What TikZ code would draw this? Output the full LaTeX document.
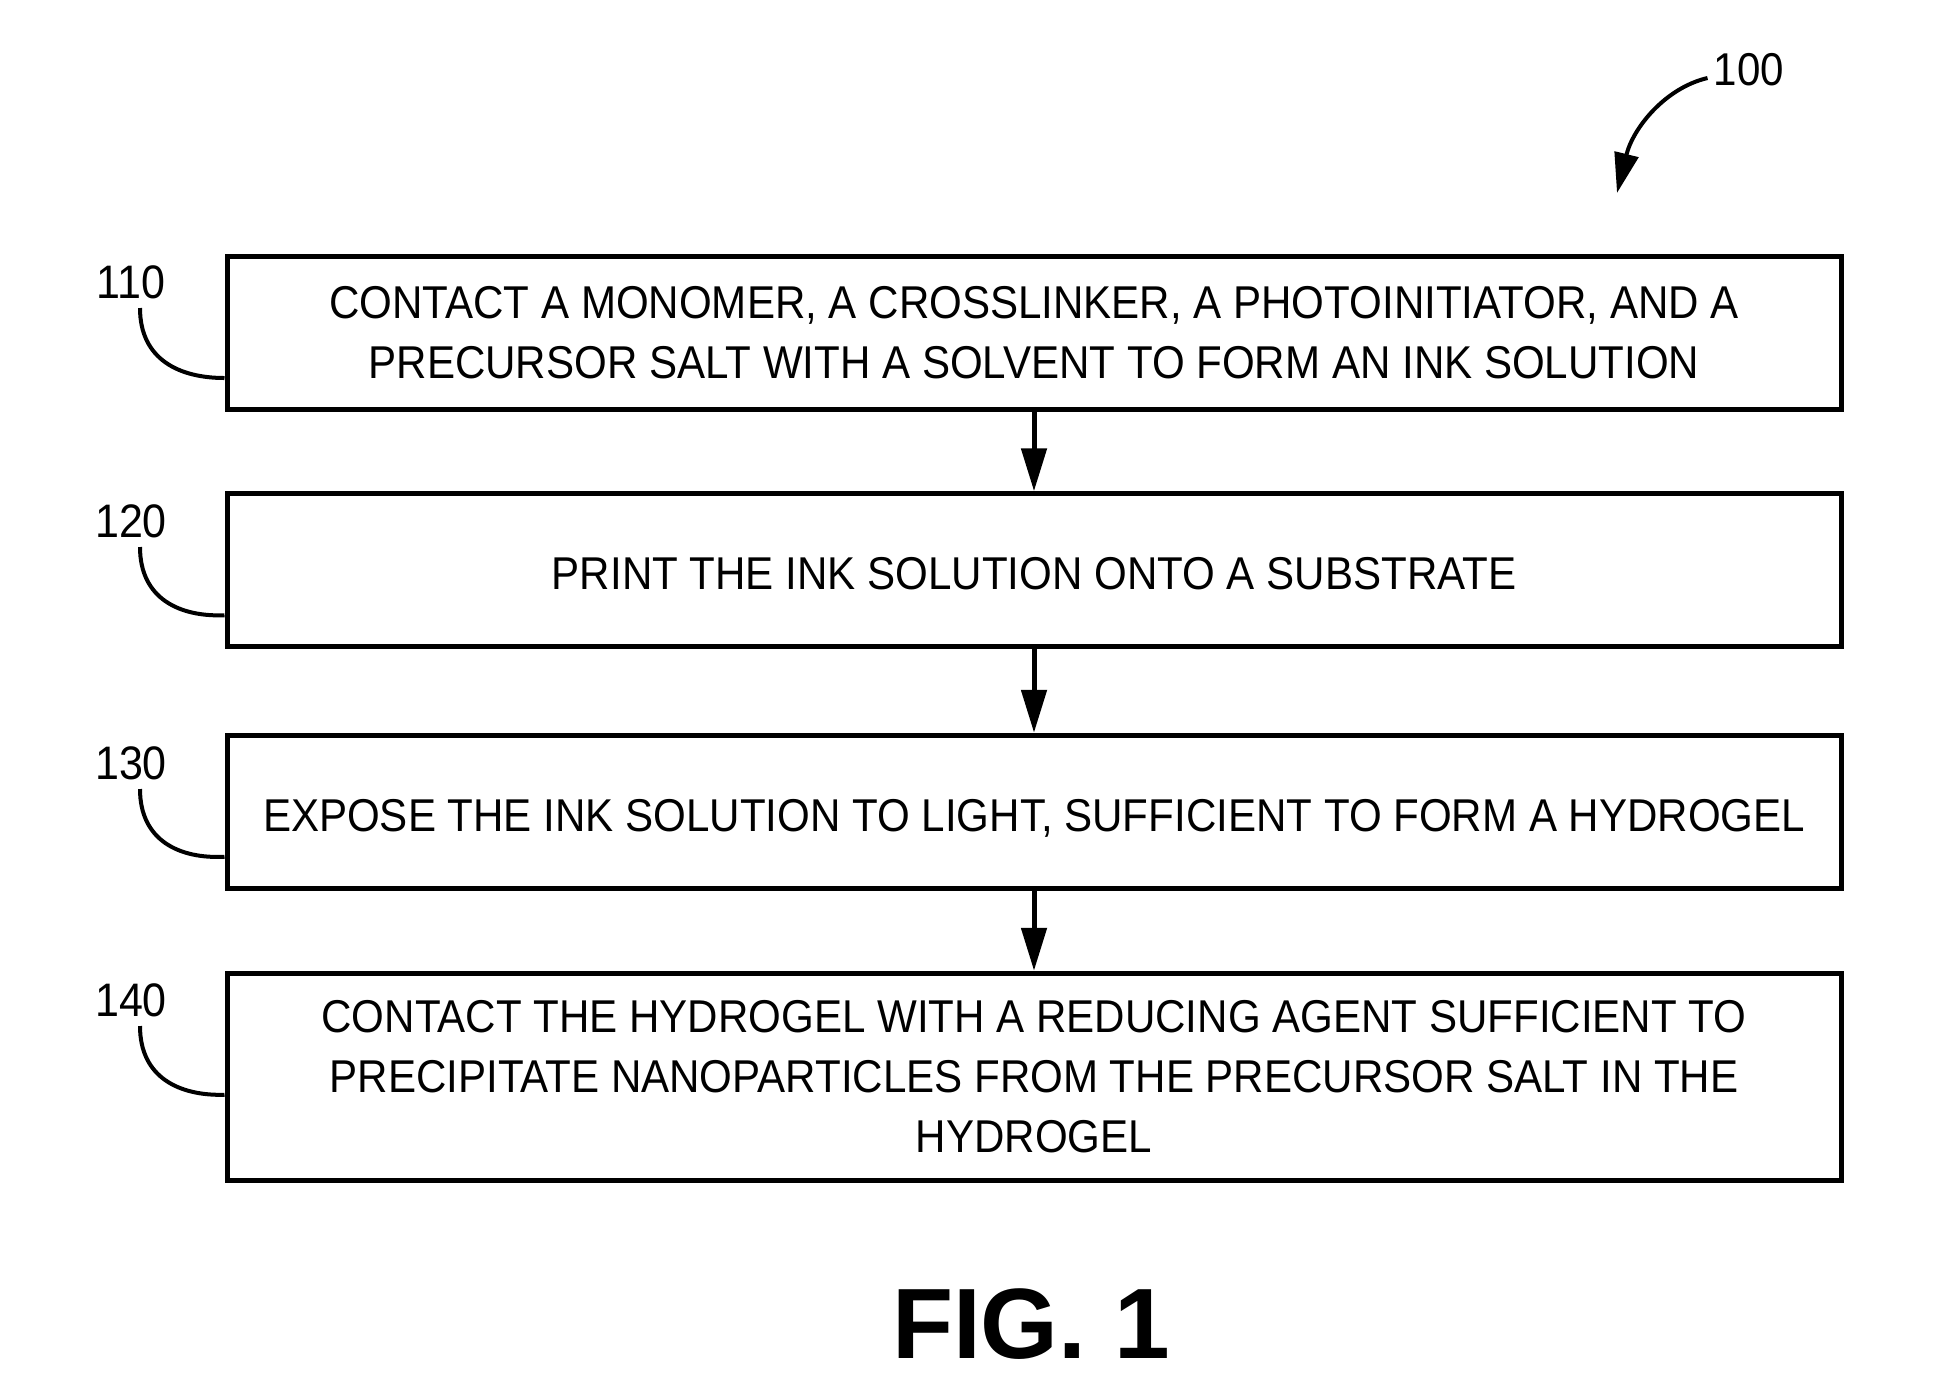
\documentclass[tikz,border=0pt]{standalone}
\usepackage{fontspec}
\setmainfont[FakeStretch=0.915]{Liberation Sans}
\newfontfamily\figfont{Liberation Sans}
\usetikzlibrary{arrows.meta,calc}
\begin{document}
\begin{tikzpicture}[x=0.5pt,y=-0.5pt,
  stepbox/.style={draw, line width=2.5pt, minimum width=807pt, inner sep=0pt, align=center,
    font=\fontsize{23pt}{30pt}\selectfont},
  onelinebox/.style={stepbox, text height=19.5pt, text depth=0pt},
  reflabel/.style={font=\fontsize{23.5pt}{28pt}\selectfont, inner sep=0pt},
  flow/.style={line width=2.5pt, -{Triangle[length=21.5pt,width=12.5pt]}},
  leader/.style={line width=2pt}]
\useasboundingbox (0,0) rectangle (1942,1394);
\fill[white] (0,0) rectangle (1942,1394);
% steps
\node[stepbox, minimum height=76.5pt] (s1) at (1034,333)
  {CONTACT A MONOMER, A CROSSLINKER, A PHOTOINITIATOR, AND A\\PRECURSOR SALT WITH A SOLVENT TO FORM AN INK SOLUTION};
\node[onelinebox, minimum height=76.25pt] (s2) at (1034,570)
  {PRINT THE INK SOLUTION ONTO A SUBSTRATE};
\node[onelinebox, minimum height=76.75pt] (s3) at (1034,812)
  {EXPOSE THE INK SOLUTION TO LIGHT, SUFFICIENT TO FORM A HYDROGEL};
\node[stepbox, minimum height=103.75pt] (s4) at (1034,1077)
  {CONTACT THE HYDROGEL WITH A REDUCING AGENT SUFFICIENT TO\\PRECIPITATE NANOPARTICLES FROM THE PRECURSOR SALT IN THE\\HYDROGEL};
% flow arrows
\draw[flow] (s1) -- (s2);
\draw[flow] (s2) -- (s3);
\draw[flow] (s3) -- (s4);
% reference labels and leaders
\foreach \n/\s/\y in {110/s1/282, 120/s2/521, 130/s3/763, 140/s4/1000}{
  \node[reflabel] (l\n) at (131,\y) {\n};
  \coordinate (l\n s) at ($(l\n.center)+(9,26)$);
  \draw[leader] (l\n s) .. controls ($(l\n s)+(0,52)$) and ($(l\n s)+(40,70)$) .. ([yshift=-62pt]\s.north west);
}
% overall reference
\node[reflabel, font=\fontsize{23pt}{28pt}\selectfont] (l100) at (1749,70) {100};
\coordinate (a100) at ($(l100.west)+(-6,8)$);
\coordinate (t100) at (1617,193);
\draw[leader, -{Triangle[length=20pt,width=12pt]}] (a100) .. controls (1665,88) and (1633,128) .. (t100);
% figure caption
\node[font=\figfont\bfseries\fontsize{50pt}{60pt}\selectfont, inner sep=0pt] (fig) at (1031,1324) {FIG. 1};
\end{tikzpicture}
\end{document}
